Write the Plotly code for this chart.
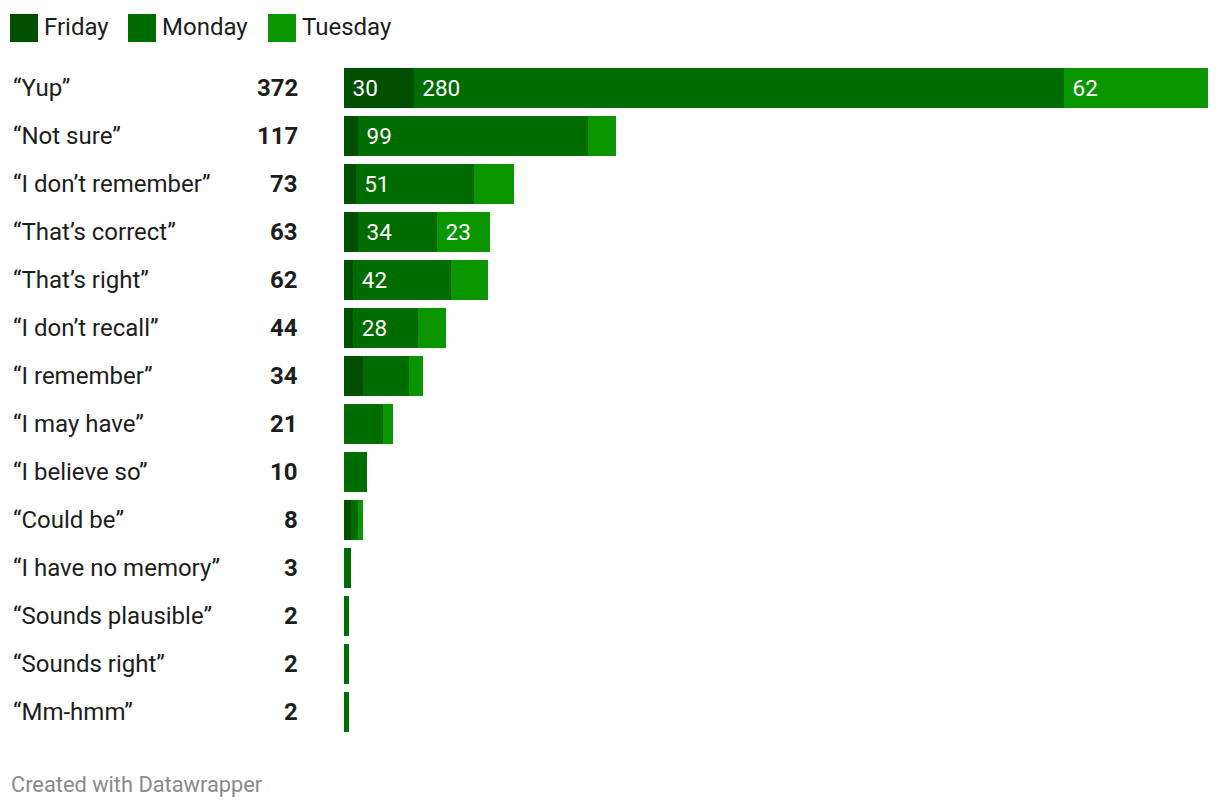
import plotly.graph_objects as go

categories = ["“Yup”", "“Not sure”", "“I don’t remember”", "“That’s correct”", "“That’s right”",
              "“I don’t recall”", "“I remember”", "“I may have”", "“I believe so”", "“Could be”",
              "“I have no memory”", "“Sounds plausible”", "“Sounds right”", "“Mm-hmm”"]
friday = [30, 6, 5, 6, 4, 4, 8, 0, 0, 3, 0, 0, 0, 0]
monday = [280, 99, 51, 34, 42, 28, 20, 17, 10, 3, 3, 2, 2, 2]
tuesday = [62, 12, 17, 23, 16, 12, 6, 4, 0, 2, 0, 0, 0, 0]
totals = [372, 117, 73, 63, 62, 44, 34, 21, 10, 8, 3, 2, 2, 2]
series_names = ["Friday", "Monday", "Tuesday"]
colors = ["#004f00", "#006c00", "#0a9600"]

# page offset: browser body margin of 8px
O = 8
W, H = 1220 - O, 810 - O
L, R, T, B = 344 - O, 12, 64 - O, 74
PW, PH = W - L - R, H - T - B
FONT = "Roboto, Arial, sans-serif"


def px(x):
    # x in page pixels -> paper coords
    return (x - O - L) / PW


def py(y):
    # y in page pixels -> paper coords
    return (H - B - (y - O)) / PH


fig = go.Figure()
for name, vals, col in zip(series_names, [friday, monday, tuesday], colors):
    fig.add_trace(go.Bar(
        y=categories, x=vals, name=name, orientation="h",
        marker=dict(color=col, line=dict(width=0)),
        text=["\u00a0" + str(v) if v >= 23 else "" for v in vals],
        textposition="inside", insidetextanchor="start",
        textfont=dict(color="white", size=22.5, family=FONT),
        constraintext="none", cliponaxis=False,
        hoverinfo="x+y+name",
    ))

annotations = []
for cat, tot in zip(categories, totals):
    annotations.append(dict(x=px(11), xref="paper", y=cat, yref="y", text=cat,
                            showarrow=False, xanchor="left", yanchor="middle",
                            font=dict(size=24, color="#1d1d1d", family=FONT)))
    annotations.append(dict(x=px(300), xref="paper", y=cat, yref="y", text="<b>%d</b>" % tot,
                            showarrow=False, xanchor="right", yanchor="middle",
                            font=dict(size=24, color="#1d1d1d", family=FONT)))

shapes = []
legend_x = [10, 128, 268]
for name, col, lx in zip(series_names, colors, legend_x):
    shapes.append(dict(type="rect", xref="paper", yref="paper",
                       x0=px(lx), x1=px(lx + 28), y0=py(42), y1=py(14),
                       fillcolor=col, line=dict(width=0)))
    annotations.append(dict(x=px(lx + 32), xref="paper", y=py(27), yref="paper", text=name,
                            showarrow=False, xanchor="left", yanchor="middle",
                            font=dict(size=24, color="#1d1d1d", family=FONT)))

annotations.append(dict(x=px(9), xref="paper", y=py(784), yref="paper",
                        text="Created with Datawrapper", showarrow=False,
                        xanchor="left", yanchor="middle",
                        font=dict(size=21.8, color="#8a8a8a", family=FONT)))

fig.update_layout(
    width=W, height=H, barmode="stack", bargap=1 / 6,
    margin=dict(l=L, r=R, t=T, b=B, pad=0),
    paper_bgcolor="white", plot_bgcolor="white",
    showlegend=False,
    xaxis=dict(range=[0, 372], visible=False, fixedrange=True),
    yaxis=dict(categoryorder="array", categoryarray=categories, autorange="reversed",
               showticklabels=False, showgrid=False, zeroline=False, showline=False),
    annotations=annotations, shapes=shapes,
    uniformtext=dict(mode=False),
    font=dict(family=FONT),
)

fig.write_html("out.html")
